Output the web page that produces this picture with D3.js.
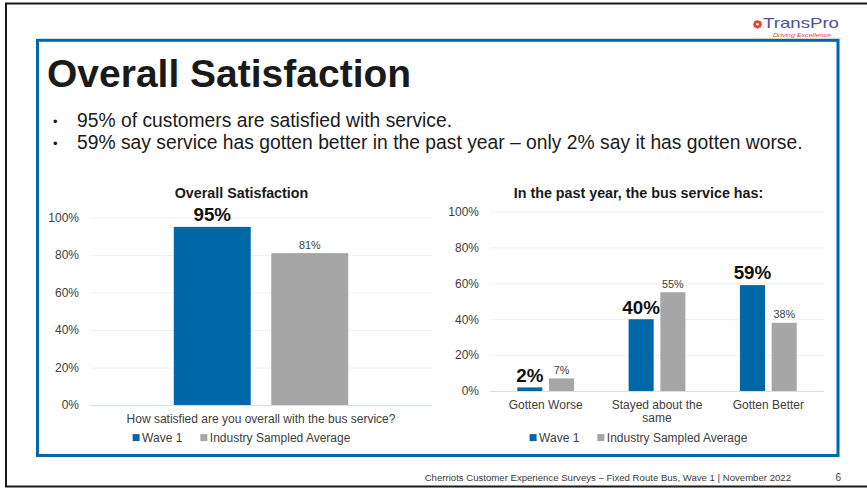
<!DOCTYPE html>
<html><head><meta charset="utf-8">
<script src="https://cdn.jsdelivr.net/npm/d3@7"></script>
<style>
html,body{margin:0;padding:0;background:#fff;}
svg{display:block;font-family:"Liberation Sans",Arial,Helvetica,sans-serif;}
</style></head><body>
<svg id="c" width="867" height="488"></svg>
<script>
// ---------- data ----------
const slideTitle = "Overall Satisfaction";
const bullets = [
  "95% of customers are satisfied with service.",
  "59% say service has gotten better in the past year – only 2% say it has gotten worse."
];
const seriesNames = ["Wave 1", "Industry Sampled Average"];
const leftTitle = "Overall Satisfaction";
const leftCategories = ["How satisfied are you overall with the bus service?"];
const leftWave1 = [95];
const leftIndustry = [81];
const rightTitle = "In the past year, the bus service has:";
const rightCategories = ["Gotten Worse", "Stayed about the same", "Gotten Better"];
const rightWave1 = [2, 40, 59];
const rightIndustry = [7, 55, 38];
const yTicks = [0, 20, 40, 60, 80, 100];
const footerText = "Cherriots Customer Experience Surveys – Fixed Route Bus, Wave 1 | November 2022";
const pageNumber = "6";
const logoName = "TransPro";
const logoTag = "Driving Excellence";

// ---------- styles ----------
const BLUE = "#0068A9", GRAY = "#A6A6A6", TXT = "#1a1a1a", AX = "#404040";
const FONT = "Liberation Sans, Arial, sans-serif";
const svg = d3.select("#c");

// slide frame
svg.append("rect").attr("x", 6).attr("y", 3.5).attr("width", 900).attr("height", 483)
  .attr("fill", "none").attr("stroke", "#1a1a1a").attr("stroke-width", 2);
// content box
svg.append("rect").attr("x", 37.5).attr("y", 40.3).attr("width", 800.5).attr("height", 415.2)
  .attr("fill", "none").attr("stroke", BLUE).attr("stroke-width", 3);

// logo
const logo = svg.append("g");
logo.append("line").attr("x1", 752).attr("x2", 842).attr("y1", 38.3).attr("y2", 38.3)
  .attr("stroke", "#d4d4d4").attr("stroke-width", 1);
const gc = [757.5, 24.3];
d3.range(8).forEach(i => {
  const a = i * Math.PI / 4;
  logo.append("circle").attr("cx", gc[0] + 2.9 * Math.cos(a)).attr("cy", gc[1] + 2.9 * Math.sin(a))
    .attr("r", 1.5).attr("fill", "#E4432F");
});
logo.append("circle").attr("cx", gc[0]).attr("cy", gc[1]).attr("r", 2.4).attr("fill", "#E4432F");
logo.append("circle").attr("cx", gc[0]).attr("cy", gc[1]).attr("r", 1.3).attr("fill", "#fff");
logo.append("text").attr("x", 763).attr("y", 28.3).attr("font-size", 14.2)
  .attr("textLength", 76).attr("lengthAdjust", "spacingAndGlyphs")
  .attr("fill", "#4F4F9E").text(logoName);
logo.append("text").attr("x", 773).attr("y", 37.4).attr("font-size", 6.2).attr("font-style", "italic")
  .attr("textLength", 58).attr("lengthAdjust", "spacingAndGlyphs")
  .attr("fill", "#E4432F").text(logoTag);

// title + bullets
svg.append("text").attr("x", 47).attr("y", 87).attr("font-size", 39).attr("font-weight", "bold")
  .attr("fill", TXT).text(slideTitle);
bullets.forEach((b, i) => {
  const y = 127 + i * 22;
  svg.append("text").attr("x", 53).attr("y", y - 1).attr("font-size", 13).attr("fill", TXT).text("•");
  svg.append("text").attr("x", 77).attr("y", y).attr("font-size", 19.3).attr("fill", TXT).text(b);
});

// footer
svg.append("text").attr("x", 791).attr("y", 481).attr("text-anchor", "end").attr("font-size", 9.6)
  .attr("fill", AX).text(footerText);
svg.append("text").attr("x", 841).attr("y", 481).attr("text-anchor", "end").attr("font-size", 10)
  .attr("fill", AX).text(pageNumber);

// wrap axis labels into lines no wider than `width`
function wrap(sel, width, lh, firstBaseline) {
  sel.each(function () {
    const t = d3.select(this);
    const words = t.text().split(/\s+/);
    t.text(null).attr("dy", null).attr("y", null);
    const lines = [];
    let line = [];
    const probe = t.append("tspan");
    words.forEach(w => {
      line.push(w);
      probe.text(line.join(" "));
      if (probe.node().getComputedTextLength() > width && line.length > 1) {
        line.pop(); lines.push(line.join(" ")); line = [w];
      }
    });
    lines.push(line.join(" "));
    probe.remove();
    lines.forEach((l, i) => t.append("tspan").attr("x", 0).attr("y", firstBaseline + i * lh).text(l));
  });
}

function drawChart(o) {
  const g = svg.append("g");
  const y = d3.scaleLinear().domain([0, 100]).range([o.y0, o.y100]);
  const x0 = d3.scaleBand().domain(o.categories).range([o.xl, o.xr]).padding(0);
  const bw = x0.bandwidth();
  const barW = bw * 0.225, gap = bw * 0.06;
  const sub = d3.scaleOrdinal().domain(seriesNames).range([bw / 2 - gap / 2 - barW, bw / 2 + gap / 2]);

  // grid / y axis
  const ya = g.append("g").attr("transform", `translate(${o.xl},0)`)
    .call(d3.axisLeft(y).tickValues(yTicks).tickSize(-(o.xr - o.xl)).tickPadding(11).tickFormat(d => d + "%"));
  ya.select(".domain").remove();
  ya.selectAll(".tick line").attr("stroke", d => d === 0 ? "#D3E1EE" : "#EAF1F8").attr("stroke-width", 1);
  ya.selectAll(".tick text").attr("fill", AX).attr("font-size", 12).attr("font-family", FONT);

  // x axis
  const xa = g.append("g").attr("transform", `translate(0,${o.y0})`)
    .call(d3.axisBottom(x0).tickSize(0).tickPadding(9));
  xa.select(".domain").remove();
  xa.selectAll(".tick text").attr("fill", AX).attr("font-size", 12).attr("font-family", FONT)
    .call(wrap, bw - 2, 13.4, 17.5);

  o.categories.forEach((c, i) => {
    [o.w1[i], o.ind[i]].forEach((v, k) => {
      const s = seriesNames[k];
      const bx = x0(c) + sub(s);
      g.append("rect").attr("x", bx).attr("y", y(v)).attr("width", barW).attr("height", y(0) - y(v))
        .attr("fill", k === 0 ? BLUE : GRAY);
      g.append("text").attr("x", bx + barW / 2).attr("y", y(v) - (k === 0 ? 5.6 : 4.4))
        .attr("text-anchor", "middle")
        .attr("font-size", k === 0 ? 18.8 : 10.8).attr("font-weight", k === 0 ? "bold" : "normal")
        .attr("fill", k === 0 ? "#111" : AX).text(v + "%");
    });
  });

  // title
  g.append("text").attr("x", o.cx).attr("y", 198.3).attr("text-anchor", "middle").attr("font-size", 14.3)
    .attr("font-weight", "bold").attr("fill", TXT).text(o.title);

  // legend
  const lg = g.append("g");
  let cur = 0;
  seriesNames.forEach((s, k) => {
    lg.append("rect").attr("x", cur).attr("y", 441.7 - 7.6).attr("width", 7).attr("height", 7)
      .attr("fill", k === 0 ? BLUE : GRAY);
    const t = lg.append("text").attr("x", cur + 9.5).attr("y", 441.7).attr("font-size", 12).attr("fill", AX).text(s);
    cur += 9.5 + t.node().getComputedTextLength() + 18;
  });
  const total = cur - 18;
  lg.attr("transform", `translate(${o.cx - total / 2},0)`);
}

drawChart({ xl: 90, xr: 432, y0: 405, y100: 217.5, cx: 241.5, categories: leftCategories,
  w1: leftWave1, ind: leftIndustry, title: leftTitle });
drawChart({ xl: 490, xr: 824, y0: 391, y100: 211.5, cx: 638.5, categories: rightCategories,
  w1: rightWave1, ind: rightIndustry, title: rightTitle });
</script>
</body></html>
